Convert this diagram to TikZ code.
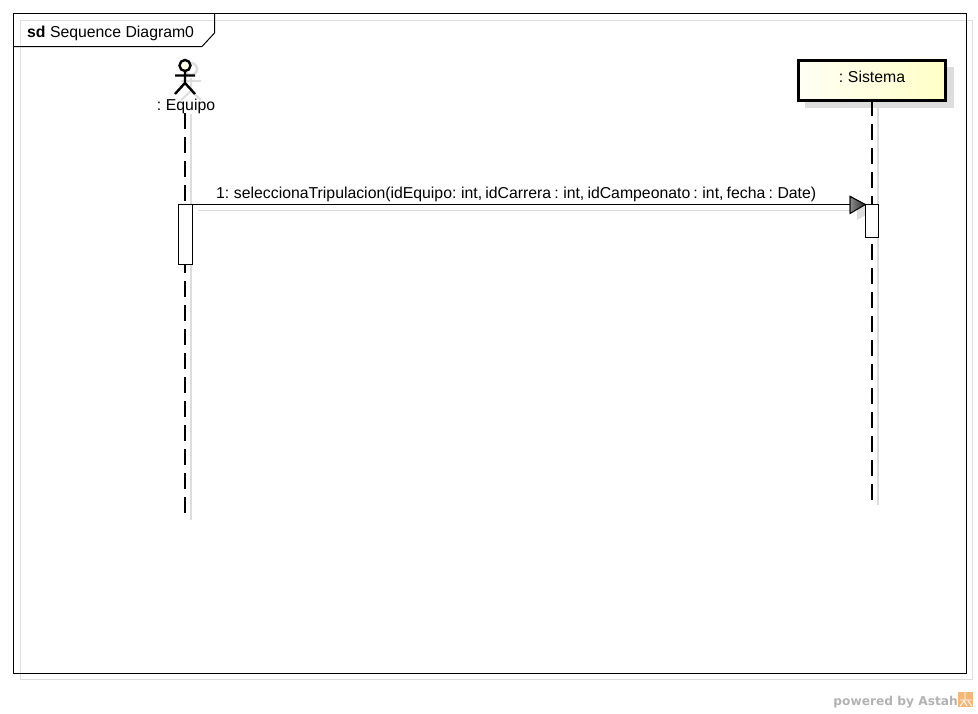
\documentclass[tikz,border=0pt]{standalone}
\usepackage{fontspec}
\setmainfont{Liberation Sans}
\newfontfamily\logofont{DejaVu Sans}
\usetikzlibrary{arrows.meta}
\definecolor{shadowgray}{HTML}{DDDDDD}
\definecolor{logoorange}{HTML}{F2B878}
\newcommand{\tightspace}{\spaceskip 0.2em\relax}
\tikzset{
  lifebox/.style={draw=black, line width=3pt, inner sep=0pt, outer sep=0pt, minimum width=147pt, minimum height=40pt, left color=yellow!4, right color=yellow!22},
  boxshadow/.style={fill=shadowgray, draw=none, inner sep=0pt, minimum width=149pt, minimum height=41pt},
  activation/.style={draw=black, fill=white, line width=0.9pt, inner sep=0pt, outer sep=0pt, minimum width=14pt},
  lifeline/.style={black, line width=1.2pt, dash pattern=on 16pt off 8pt},
  lifeshadow/.style={shadowgray, line width=1.3pt},
  msglabel/.style={inner sep=0pt, font=\fontsize{15.8}{17}\selectfont\tightspace},
  titlelabel/.style={inner sep=0pt, font=\fontsize{15.8}{17}\selectfont}
}
\begin{document}
\begin{tikzpicture}[x=1pt, y=-1pt, >=stealth]
    \useasboundingbox (0,0) rectangle (978,713);
    % Frame
    \draw[shadowgray, line width=1pt] (20.5,20.5) rectangle (972.5,679.5);
    \draw[black, line width=1pt] (13.5,13.5) rectangle (966,673);
    \draw[black, line width=1pt] (13.5,46.5) -- (202,46.5) -- (214.5,33) -- (214.5,13.5);
    \node[titlelabel, anchor=base west] (title) at (27,37) {\textbf{sd} Sequence Diagram0};

    % Shadows
    \draw[shadowgray, line width=2.4pt] (191,69) circle (6);
    \draw[shadowgray, line width=2pt] (191,78) -- (191,91) (181,81) -- (201,81) (181,100) -- (191,91) -- (201,100);
    \node[boxshadow, anchor=north west] (boxshadow) at (804.5,67) {};
    \coordinate (endEquipoShadow) at (191,520);
    \coordinate (endSistemaShadow) at (878,505);
    \coordinate (startEquipoShadow) at (191,114);
    \coordinate (startSistemaShadow) at (878,108);
    \draw[lifeshadow] (startEquipoShadow) -- (endEquipoShadow);
    \draw[lifeshadow] (startSistemaShadow) -- (endSistemaShadow);

    % Objects
    \draw[black, line width=2.4pt, fill=yellow!10] (185,65.5) circle (5.5);
    \draw[black, line width=2.4pt] (185,71) -- (185,85) (175,75.5) -- (195,75.5) (175,94) -- (185,83) -- (195,94);
    \node[msglabel, anchor=base] (equipo) at (186,110) {: Equipo};
    \node[lifebox, anchor=north west] (sistema) at (798,60) {};
    \node[msglabel, anchor=base] (sistemaName) at (872,82) {: Sistema};

    % Life lines
    \coordinate (startEquipo) at (185,113);
    \coordinate (endEquipo) at (185,514);
    \coordinate (startSistema) at (872,100);
    \coordinate (endSistema) at (872,501);
    \draw[lifeline] (startEquipo) -- (endEquipo);
    \draw[lifeline] (startSistema) -- (endSistema);

    % Activations
    \node[activation, minimum height=60pt, anchor=north] (actEquipo) at (185.5,204.5) {};
    \node[activation, minimum height=33pt, minimum width=13pt, anchor=north] (actSistema) at (872,204.5) {};

    % Message
    \coordinate (msgShadowStart) at (198,210);
    \coordinate (msgShadowEnd) at (851,210);
    \draw[shadowgray, line width=1pt] (msgShadowStart) -- (msgShadowEnd);
    \fill[shadowgray] (857,202) -- (873,211) -- (857,220) -- cycle;
    \node[activation, minimum height=33pt, minimum width=13pt, anchor=north] at (872,204.5) {};
    \draw[black, line width=1pt, -{Triangle[length=16pt, width=18pt, fill=gray]}] (actEquipo.north east) -- (actSistema.north west);
    \draw[black, line width=1pt, left color=gray!90, right color=black!85] (850,196.5) -- (865.5,204.5) -- (850,213.5) -- cycle;
    \node[msglabel, anchor=base west] (msg) at (216,198) {1: seleccionaTripulacion(idEquipo: int, idCarrera : int, idCampeonato : int, fecha : Date)};

    % Watermark
    \node[inner sep=0pt, anchor=base east, font=\logofont\bfseries\fontsize{12.2}{14}\selectfont, text=black!30] (powered) at (958,705) {powered by Astah};
    \node[fill=logoorange, inner sep=0pt, minimum size=15pt, anchor=north west] (logo) at (958,692) {};
    \draw[white, line width=0.8pt] (960,700) -- (972,700) (965,692) -- (965,699) (960,706) -- (964,701) -- (967,706) (968,701) -- (972,706);
\end{tikzpicture}
\end{document}
